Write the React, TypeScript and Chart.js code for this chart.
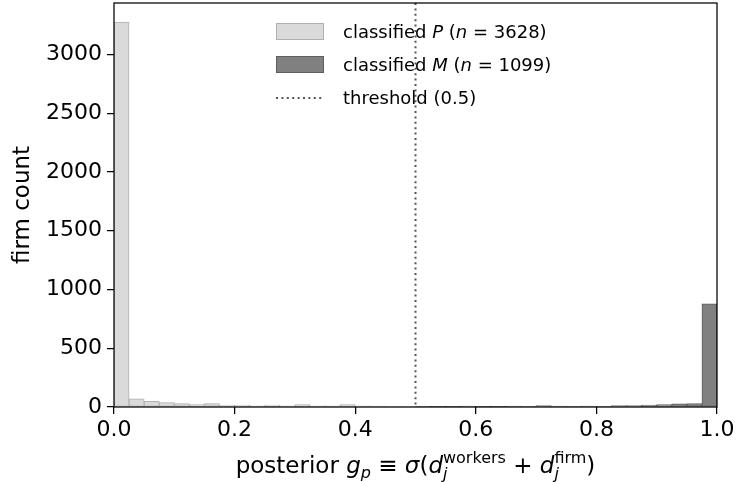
import React, { useEffect, useRef } from "react";
import { Chart, registerables } from "chart.js";

Chart.register(...registerables);

// ---- data ----
const binCount = 40;
const binWidth = 0.025;
const thresholdValue = 0.5;
// counts per bin, classified P (bins 0.000 .. 0.475)
const pCounts = [3275, 69, 48, 37, 29, 20, 29, 17, 17, 11, 17, 9, 20, 9, 9, 20, 9, 8, 6, 6];
// counts per bin, classified M (bins 0.500 .. 0.975)
const mCounts = [5, 3, 3, 8, 3, 3, 8, 4, 12, 8, 4, 8, 4, 12, 12, 16, 20, 26, 30, 877];
const pN = 3628;
const mN = 1099;
const xTicks = [0, 0.2, 0.4, 0.6, 0.8, 1.0];
const yTicks = [0, 500, 1000, 1500, 2000, 2500, 3000];
const yMax = 3437;

const FAMILY = "'DejaVu Sans', sans-serif";
const P_FILL = "#dadada";
const P_EDGE = "#b0b0b0";
const M_FILL = "#808080";
const M_EDGE = "#5e5e5e";

type Piece = { t: string; it?: boolean; sz: number; dy?: number };
type Group = Piece[];

function fontStr(p: Piece) {
  return `${p.it ? "italic " : ""}${p.sz}px ${FAMILY}`;
}

function drawGroups(
  ctx: CanvasRenderingContext2D,
  groups: Group[],
  x: number,
  y: number,
  align: "left" | "center"
) {
  const widths = groups.map((g) =>
    Math.max(
      ...g.map((p) => {
        ctx.font = fontStr(p);
        return ctx.measureText(p.t).width;
      })
    )
  );
  const total = widths.reduce((a, b) => a + b, 0);
  let cx = align === "center" ? x - total / 2 : x;
  groups.forEach((g, i) => {
    g.forEach((p) => {
      ctx.font = fontStr(p);
      ctx.fillText(p.t, cx, y + (p.dy || 0));
    });
    cx += widths[i];
  });
}

const overlayPlugin = {
  id: "overlay",
  afterDatasetsDraw(chart: any) {
    const ctx: CanvasRenderingContext2D = chart.ctx;
    const { left, right, top, bottom } = chart.chartArea;
    const xv = chart.scales.xv;
    ctx.save();

    // threshold line
    const tx = xv.getPixelForValue(thresholdValue);
    ctx.strokeStyle = "#555";
    ctx.lineWidth = 2;
    ctx.setLineDash([2, 3.4]);
    ctx.beginPath();
    ctx.moveTo(tx, top);
    ctx.lineTo(tx, bottom);
    ctx.stroke();
    ctx.setLineDash([]);

    // spines
    ctx.strokeStyle = "#000";
    ctx.lineWidth = 1.25;
    ctx.strokeRect(left, top, right - left, bottom - top);

    // legend
    const lx = left + 162;
    const tx0 = left + 229;
    const S = 18;
    ctx.fillStyle = P_FILL;
    ctx.fillRect(lx, top + 20, 48, 17);
    ctx.strokeStyle = P_EDGE;
    ctx.lineWidth = 1;
    ctx.strokeRect(lx + 0.5, top + 20.5, 47, 16);
    ctx.fillStyle = M_FILL;
    ctx.fillRect(lx, top + 53, 48, 17);
    ctx.strokeStyle = M_EDGE;
    ctx.strokeRect(lx + 0.5, top + 53.5, 47, 16);
    ctx.strokeStyle = "#555";
    ctx.lineWidth = 2;
    ctx.setLineDash([2, 3.4]);
    ctx.beginPath();
    ctx.moveTo(lx, top + 95);
    ctx.lineTo(lx + 48, top + 95);
    ctx.stroke();
    ctx.setLineDash([]);

    ctx.fillStyle = "#000";
    ctx.textBaseline = "alphabetic";
    ctx.textAlign = "left";
    drawGroups(
      ctx,
      [
        [{ t: "classified ", sz: S }],
        [{ t: "P", it: true, sz: S }],
        [{ t: " (", sz: S }],
        [{ t: "n", it: true, sz: S }],
        [{ t: " = " + pN + ")", sz: S }],
      ],
      tx0,
      top + 35,
      "left"
    );
    drawGroups(
      ctx,
      [
        [{ t: "classified ", sz: S }],
        [{ t: "M", it: true, sz: S }],
        [{ t: " (", sz: S }],
        [{ t: "n", it: true, sz: S }],
        [{ t: " = " + mN + ")", sz: S }],
      ],
      tx0,
      top + 68,
      "left"
    );
    drawGroups(ctx, [[{ t: "threshold (" + thresholdValue + ")", sz: S }]], tx0, top + 101, "left");

    // x axis label
    const L = 23;
    const s = 16;
    drawGroups(
      ctx,
      [
        [{ t: "posterior ", sz: L }],
        [{ t: "g", it: true, sz: L }],
        [{ t: "p", it: true, sz: s, dy: 5 }],
        [{ t: " \u2261 ", sz: L }],
        [{ t: "\u03C3", it: true, sz: L }],
        [{ t: "(", sz: L }],
        [{ t: "d", it: true, sz: L }],
        [
          { t: "workers", sz: s, dy: -10 },
          { t: "j", it: true, sz: s, dy: 6 },
        ],
        [{ t: " + ", sz: L }],
        [{ t: "d", it: true, sz: L }],
        [
          { t: "firm", sz: s, dy: -10 },
          { t: "j", it: true, sz: s, dy: 6 },
        ],
        [{ t: ")", sz: L }],
      ],
      (left + right) / 2,
      473,
      "center"
    );

    // y axis label
    ctx.save();
    ctx.translate(29, (top + bottom) / 2);
    ctx.rotate(-Math.PI / 2);
    ctx.textAlign = "center";
    ctx.font = `${L}px ${FAMILY}`;
    ctx.fillText("firm count", 0, 0);
    ctx.restore();

    ctx.restore();
  },
};

export default function App() {
  const ref = useRef<HTMLCanvasElement>(null);
  useEffect(() => {
    const labels = Array.from({ length: binCount }, (_, i) => (i * binWidth).toFixed(3));
    const pData = labels.map((_, i) => (i < pCounts.length ? pCounts[i] : null));
    const mData = labels.map((_, i) => (i >= pCounts.length ? mCounts[i - pCounts.length] : null));
    const tickFont = { family: FAMILY, size: 22 };

    const chart = new Chart(ref.current!, {
      type: "bar",
      data: {
        labels,
        datasets: [
          {
            label: "classified P",
            data: pData,
            backgroundColor: P_FILL,
            borderColor: P_EDGE,
            borderWidth: 1,
            borderSkipped: false,
            xAxisID: "x",
            yAxisID: "y",
          },
          {
            label: "classified M",
            data: mData,
            backgroundColor: M_FILL,
            borderColor: M_EDGE,
            borderWidth: 1,
            borderSkipped: false,
            xAxisID: "x",
            yAxisID: "y",
          },
        ],
      } as any,
      options: {
        animation: false,
        responsive: false,
        devicePixelRatio: 1,
        datasets: { bar: { grouped: false, barPercentage: 1, categoryPercentage: 1 } },
        layout: { padding: { top: 3, right: 19, left: 0, bottom: 0 } },
        plugins: { legend: { display: false }, tooltip: { enabled: false } },
        scales: {
          x: { type: "category", display: false, offset: true },
          xv: {
            type: "linear",
            position: "bottom",
            min: 0,
            max: 1,
            offset: false,
            afterBuildTicks: (sc: any) => {
              sc.ticks = xTicks.map((v) => ({ value: v }));
            },
            afterFit: (sc: any) => {
              sc.height = 75;
              sc.paddingLeft = 0;
              sc.paddingRight = 0;
            },
            ticks: {
              font: tickFont,
              color: "#000",
              padding: 3,
              maxRotation: 0,
              autoSkip: false,
              callback: (v: any) => Number(v).toFixed(1),
            },
            grid: {
              offset: false,
              drawOnChartArea: false,
              drawTicks: true,
              tickLength: 7,
              color: "#000",
              lineWidth: 1.25,
            },
            border: { display: false },
          },
          y: {
            type: "linear",
            min: 0,
            max: yMax,
            afterBuildTicks: (sc: any) => {
              sc.ticks = yTicks.map((v) => ({ value: v }));
            },
            afterFit: (sc: any) => {
              sc.width = 114;
              sc.paddingTop = 0;
              sc.paddingBottom = 0;
            },
            ticks: {
              font: tickFont,
              color: "#000",
              padding: 5,
              autoSkip: false,
              callback: (v: any) => String(v),
            },
            grid: { drawOnChartArea: false, drawTicks: true, tickLength: 7, color: "#000", lineWidth: 1.25 },
            border: { display: false },
          },
        },
      } as any,
      plugins: [overlayPlugin],
    });
    return () => chart.destroy();
  }, []);
  return (
    <div style={{ position: "absolute", left: 0, top: 0, width: 736, height: 482, background: "#fff" }}>
      <canvas ref={ref} width={736} height={482} style={{ display: "block" }} />
    </div>
  );
}
